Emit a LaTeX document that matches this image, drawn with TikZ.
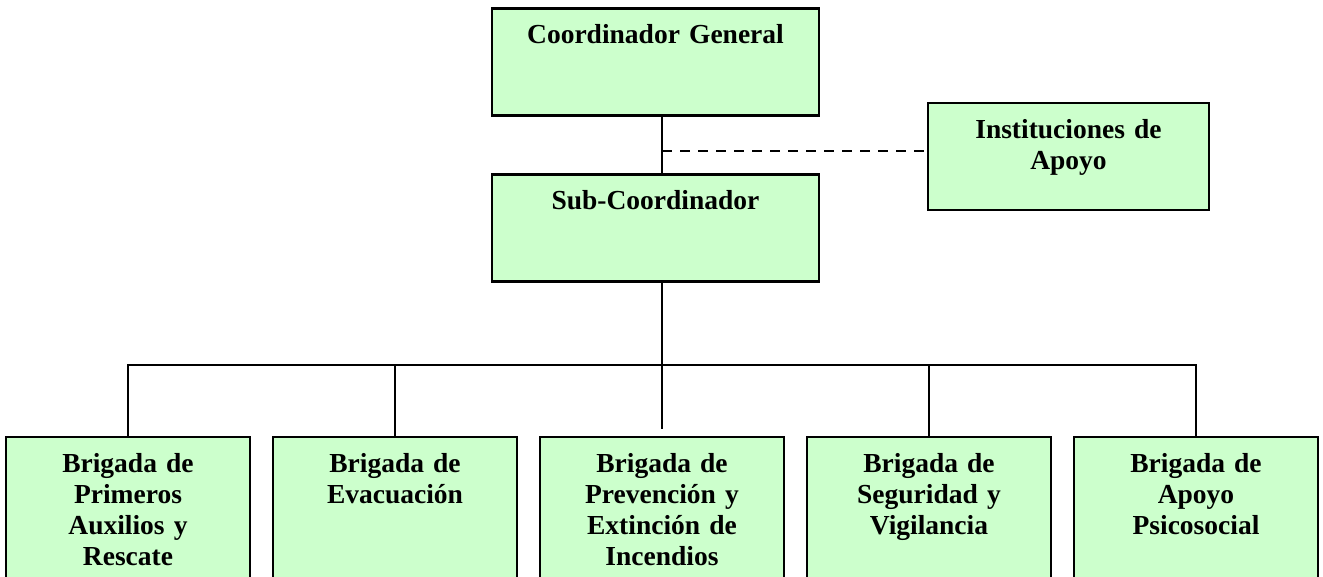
\documentclass[tikz,border=0pt]{standalone}
\usepackage{fontspec}
\setmainfont{Liberation Serif}
\usepackage{tikz}
\usetikzlibrary{positioning}
\definecolor{boxgreen}{HTML}{CCFFCC}

\begin{document}
\begin{tikzpicture}[x=1pt, y=-1pt, node distance=267pt, on grid,
    box/.style={draw, line width=2.2pt, fill=boxgreen, align=center, inner xsep=4pt, inner ysep=0pt,
      font=\bfseries\fontsize{27.5}{31}\selectfont, text height=35pt},
    top/.style={box, minimum width=327pt, text width=319pt, text depth=72pt},
    brig/.style={box, minimum width=244pt, text width=236pt, text depth=115pt},
    link/.style={line width=1.6pt}]
    \useasboundingbox (0,0) rectangle (1323,576);

    \node[top] (cg) at (655.5,62) {Coordinador General};
    \node[top] (sub) [below=166pt of cg] {Sub-Coordinador};
    \node[box, minimum width=281pt, text width=273pt, text depth=72pt] (inst) at (1068.5,156.5) {Instituciones de\\Apoyo};

    \node[brig] (b1) at (128,512) {Brigada de\\Primeros\\Auxilios y\\Rescate};
    \node[brig] (b2) [right=of b1] {Brigada de\\Evacuación};
    \node[brig] (b3) [right=of b2] {Brigada de\\Prevención y\\Extinción de\\Incendios};
    \node[brig] (b4) [right=of b3] {Brigada de\\Seguridad y\\Vigilancia};
    \node[brig] (b5) [right=of b4] {Brigada de\\Apoyo\\Psicosocial};

    \coordinate (bus) at (0,365);
    \coordinate (dash) at (662,151);
    \coordinate (b3top) at ([yshift=7pt]b3.north);

    \draw[link] (cg.south -| b3) -- (sub.north -| b3);
    \draw[link, dashed, dash pattern=on 10pt off 8pt] (dash) -- (dash -| inst.west);
    \draw[link] (sub.south -| b3) -- (b3top);
    \draw[link] (b1.north) -- (b1.north |- bus) -- (b5.north |- bus) -- (b5.north);
    \draw[link] (b2.north) -- (b2.north |- bus);
    \draw[link] (b4.north) -- (b4.north |- bus);
\end{tikzpicture}
\end{document}
